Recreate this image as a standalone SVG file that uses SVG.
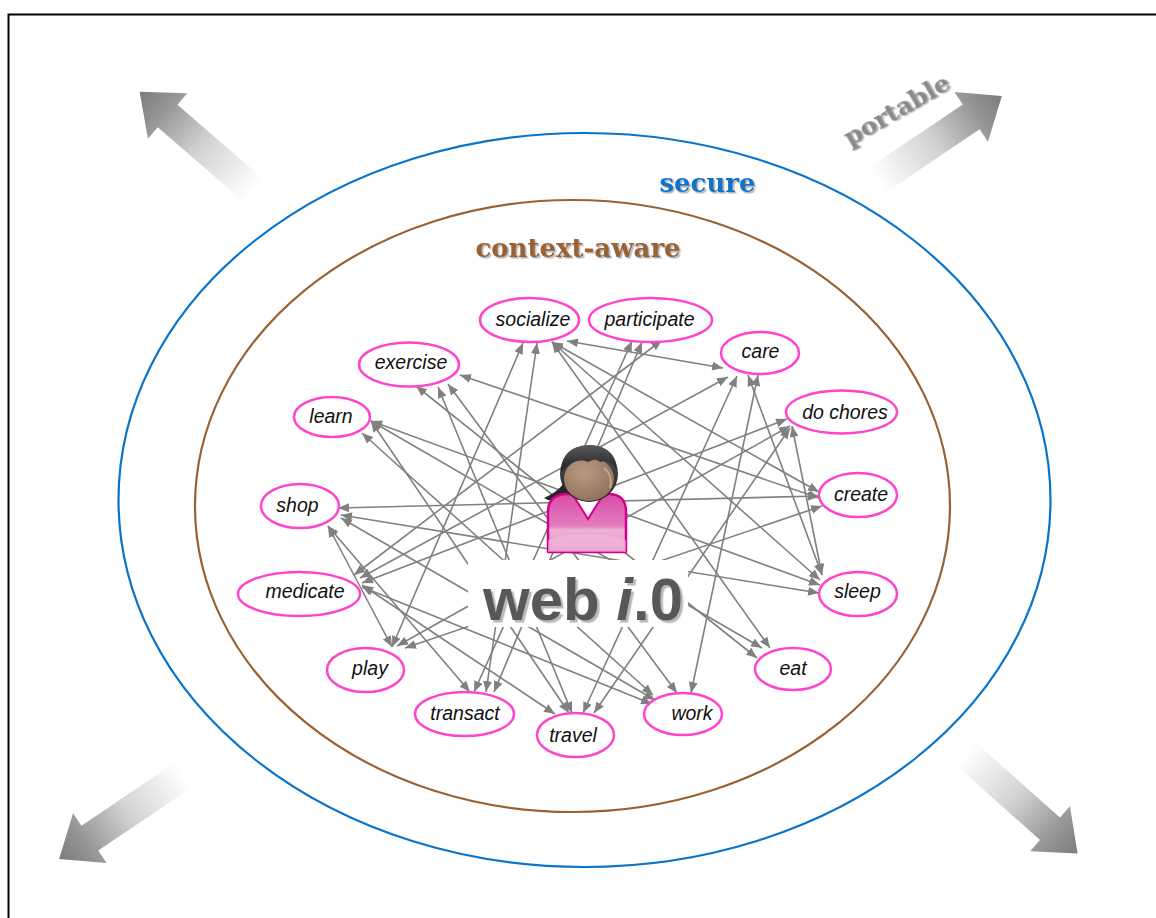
<svg xmlns="http://www.w3.org/2000/svg" width="1156" height="918" viewBox="0 0 1156 918">
  <style>
    .node ellipse { fill: #ffffff; stroke: #ff44cc; stroke-width: 2.5; }
    .node text { font-family: "Liberation Sans", Arial, sans-serif; font-style: italic; font-size: 19.5px; fill: #111111; text-anchor: middle; }
    .conn line { stroke: #808080; stroke-width: 1.6; fill: none; marker-start: url(#ah); marker-end: url(#ah); }
    .ring { fill: none; stroke-width: 2.2; }
    .slab { font-family: "DejaVu Serif", "Liberation Serif", serif; font-weight: bold; filter: url(#soft); }
    .bigarrow { fill: url(#fade); }
  </style>
  <defs>
    <marker id="ah" viewBox="0 0 11 9" refX="11" refY="4.5" markerWidth="11" markerHeight="9" markerUnits="userSpaceOnUse" orient="auto-start-reverse">
      <path d="M0,0 L11,4.5 L0,9 Z" fill="#808080"/>
    </marker>
    <filter id="soft" x="-10%" y="-30%" width="130%" height="170%">
      <feDropShadow dx="1.5" dy="1.5" stdDeviation="0.6" flood-color="#9a9a9a" flood-opacity="0.8"/>
    </filter>
    <filter id="titleShadow" x="-10%" y="-20%" width="130%" height="150%">
      <feDropShadow dx="2.5" dy="2.5" stdDeviation="0.7" flood-color="#b0b0b0" flood-opacity="0.9"/>
    </filter>
    <linearGradient id="fade" x1="0" y1="0" x2="1" y2="0">
      <stop offset="0" stop-color="#ffffff"/>
      <stop offset="0.45" stop-color="#d2d2d2"/>
      <stop offset="0.8" stop-color="#959595"/>
      <stop offset="1" stop-color="#7c7c7c"/>
    </linearGradient>
    <radialGradient id="face" cx="0.4" cy="0.35" r="0.75">
      <stop offset="0" stop-color="#b89a84"/>
      <stop offset="1" stop-color="#8e6d57"/>
    </radialGradient>
    <linearGradient id="hair" x1="0" y1="0" x2="0" y2="1">
      <stop offset="0" stop-color="#5a5a5a"/>
      <stop offset="1" stop-color="#1e1e1e"/>
    </linearGradient>
    <linearGradient id="shirt" x1="0" y1="0" x2="0" y2="1">
      <stop offset="0" stop-color="#d94aa6"/>
      <stop offset="0.55" stop-color="#e27dbd"/>
      <stop offset="0.62" stop-color="#eeb0d6"/>
      <stop offset="1" stop-color="#e590c8"/>
    </linearGradient>
    <path id="arrowShape" d="M0,-15 L113,-15 L113,-30 L150,0 L113,30 L113,15 L0,15 Z"/>
  </defs>

  <!-- page frame -->
  <path d="M8.5,918 V14.5 H1156" fill="none" stroke="#000000" stroke-width="2"/>

  <!-- outward arrows -->
  <g id="arrows-out">
    <use href="#arrowShape" class="bigarrow" transform="translate(253,190) rotate(220.9)"/>
    <use href="#arrowShape" class="bigarrow" transform="translate(877.5,180) rotate(-34)"/>
    <use href="#arrowShape" class="bigarrow" transform="translate(183.5,775) rotate(146)"/>
    <use href="#arrowShape" class="bigarrow" transform="translate(965.6,753.6) rotate(41.7)"/>
  </g>
  <g id="label-portable">
    <text class="slab" transform="translate(898,112) rotate(-30)" text-anchor="middle" y="6" font-size="25" fill="#8a8a8a">portable</text>
  </g>

  <!-- rings -->
  <g id="ring-secure">
    <ellipse class="ring" cx="584.5" cy="500" rx="466" ry="367" stroke="#0a74c8"/>
    <text class="slab" x="707.5" y="192" font-size="26" text-anchor="middle" fill="#0a74c8">secure</text>
  </g>
  <g id="ring-context">
    <ellipse class="ring" cx="572.5" cy="506" rx="377.5" ry="306" stroke="#9a6232"/>
    <text class="slab" x="578" y="257" font-size="26" text-anchor="middle" fill="#9a6232">context-aware</text>
  </g>

  <!-- connectors -->
  <g id="connectors" class="conn">
    <line x1="523" y1="343" x2="392" y2="647"/>
    <line x1="537" y1="343" x2="486" y2="692"/>
    <line x1="552" y1="342" x2="770" y2="648"/>
    <line x1="552" y1="342" x2="819" y2="492"/>
    <line x1="552" y1="342" x2="820" y2="580"/>
    <line x1="567" y1="341" x2="723" y2="368"/>
    <line x1="632" y1="341" x2="474" y2="692"/>
    <line x1="642" y1="342" x2="494" y2="692"/>
    <line x1="662" y1="340" x2="354" y2="575"/>
    <line x1="416" y1="386" x2="757" y2="658"/>
    <line x1="438" y1="387" x2="572" y2="713"/>
    <line x1="448" y1="384" x2="677" y2="693"/>
    <line x1="460" y1="375" x2="819" y2="498"/>
    <line x1="362" y1="433" x2="653" y2="695"/>
    <line x1="371" y1="421" x2="820" y2="585"/>
    <line x1="371" y1="421" x2="569" y2="713"/>
    <line x1="371" y1="421" x2="762" y2="648"/>
    <line x1="737" y1="376" x2="583" y2="713"/>
    <line x1="758" y1="375" x2="691" y2="693"/>
    <line x1="748" y1="375" x2="822" y2="575"/>
    <line x1="728" y1="377" x2="360" y2="578"/>
    <line x1="787" y1="419" x2="362" y2="583"/>
    <line x1="792" y1="426" x2="822" y2="575"/>
    <line x1="790" y1="426" x2="397" y2="646"/>
    <line x1="790" y1="428" x2="594" y2="713"/>
    <line x1="822" y1="506" x2="405" y2="648"/>
    <line x1="819" y1="496" x2="338" y2="508"/>
    <line x1="819" y1="593" x2="341" y2="515"/>
    <line x1="328" y1="526" x2="470" y2="692"/>
    <line x1="328" y1="526" x2="392" y2="647"/>
    <line x1="341" y1="518" x2="655" y2="700"/>
    <line x1="362" y1="585" x2="555" y2="714"/>
    <line x1="362" y1="587" x2="652" y2="704"/>
  </g>

  <!-- label plate behind the title -->
  <rect x="468" y="560" width="220" height="67" fill="#ffffff"/>

  <!-- activity nodes -->
  <g id="n-socialize" class="node"><ellipse cx="529.5" cy="320" rx="49.5" ry="22"/><text x="533" y="326">socialize</text></g>
  <g id="n-participate" class="node"><ellipse cx="650.5" cy="320" rx="61.5" ry="22"/><text x="649.5" y="326">participate</text></g>
  <g id="n-exercise" class="node"><ellipse cx="409" cy="364.5" rx="50" ry="22"/><text x="411" y="369">exercise</text></g>
  <g id="n-learn" class="node"><ellipse cx="332" cy="417" rx="38" ry="20"/><text x="331" y="423">learn</text></g>
  <g id="n-care" class="node"><ellipse cx="760" cy="353" rx="39" ry="21"/><text x="760.5" y="358">care</text></g>
  <g id="n-dochores" class="node"><ellipse cx="841.5" cy="412" rx="55.5" ry="21.5"/><text x="845" y="419">do chores</text></g>
  <g id="n-create" class="node"><ellipse cx="858" cy="495" rx="39" ry="22"/><text x="861" y="501">create</text></g>
  <g id="n-sleep" class="node"><ellipse cx="858" cy="594" rx="39" ry="22"/><text x="857.5" y="598">sleep</text></g>
  <g id="n-eat" class="node"><ellipse cx="793" cy="669" rx="38" ry="21"/><text x="793" y="675">eat</text></g>
  <g id="n-work" class="node"><ellipse cx="683" cy="714" rx="39" ry="21"/><text x="692" y="720">work</text></g>
  <g id="n-travel" class="node"><ellipse cx="575.5" cy="735" rx="38.5" ry="22"/><text x="573" y="742">travel</text></g>
  <g id="n-transact" class="node"><ellipse cx="464.5" cy="714" rx="49.5" ry="22"/><text x="465" y="720">transact</text></g>
  <g id="n-play" class="node"><ellipse cx="365.5" cy="670" rx="38.5" ry="22"/><text x="370" y="675">play</text></g>
  <g id="n-medicate" class="node"><ellipse cx="299" cy="594" rx="61" ry="22"/><text x="305" y="598">medicate</text></g>
  <g id="n-shop" class="node"><ellipse cx="300" cy="506" rx="39" ry="22"/><text x="297.5" y="512">shop</text></g>

  <!-- user figure -->
  <g id="n-user">
    <path d="M566,480 C560,490 552,494 544,498 C551,503 563,500 572,493 Z" fill="#262626"/>
    <path d="M548,552 L548,512 Q548,495 566,494 L610,494 Q626,495 626,512 L626,552 Z" fill="url(#shirt)" stroke="#d4008c" stroke-width="2.5" stroke-linejoin="round"/>
    <path d="M548,540 Q587,528 626,540 L626,552 L548,552 Z" fill="#f2c0df" opacity="0.55"/>
    <path d="M573,495 L588,519 L603,495 Z" fill="#ffffff" stroke="#d4008c" stroke-width="2"/>
    <ellipse cx="589" cy="474" rx="29" ry="28" fill="url(#hair)"/>
    <ellipse cx="589" cy="479" rx="25" ry="22" fill="url(#face)"/>
    <path d="M561,472 C561,452 575,445 590,445 C606,445 617,455 617,470 C612,462 606,460 600,462 C596,458 592,460 588,462 C580,458 570,462 561,472 Z" fill="url(#hair)"/>
    <path d="M604,468 A18,18 0 0 1 610,488" fill="none" stroke="#d9c2b2" stroke-width="2" opacity="0.6"/>
  </g>

  <!-- title -->
  <g id="title" font-family="'Liberation Sans', Arial, sans-serif" font-weight="bold" font-size="60">
    <text x="483" y="620" fill="#595959" filter="url(#titleShadow)">web <tspan font-style="italic">i</tspan>.0</text>
  </g>
</svg>
